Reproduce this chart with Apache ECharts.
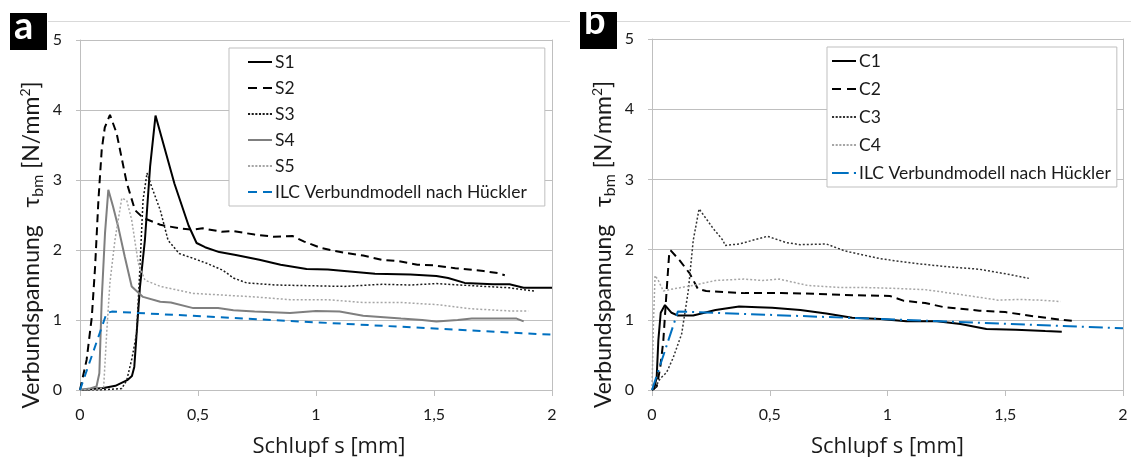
<!DOCTYPE html>
<html><head><meta charset="utf-8">
<script src="https://cdn.jsdelivr.net/npm/echarts@6/dist/echarts.min.js"></script>
<style>html,body{margin:0;padding:0;background:#fff}#c{width:1131px;height:457px}</style>
</head><body><div id="c"></div>
<script>
// ---- Data (s in mm, tau in N/mm²) ----
const xTicks = ['0', '0,5', '1', '1,5', '2'];
const namesA = ['S1', 'S2', 'S3', 'S4', 'S5', 'ILC Verbundmodell nach Hückler'];
const namesB = ['C1', 'C2', 'C3', 'C4', 'ILC Verbundmodell nach Hückler'];

const s1 = [[0,0],[0.04,0.01],[0.1,0.03],[0.15,0.06],[0.2,0.14],[0.22,0.2],[0.23,0.33],[0.24,0.81],[0.254,1.47],[0.275,2.14],[0.297,3.19],[0.32,3.92],[0.40,2.95],[0.46,2.35],[0.494,2.1],[0.53,2.04],[0.59,1.97],[0.66,1.93],[0.76,1.86],[0.85,1.79],[0.96,1.73],[1.05,1.72],[1.12,1.70],[1.25,1.66],[1.4,1.65],[1.51,1.63],[1.56,1.60],[1.63,1.53],[1.75,1.51],[1.82,1.51],[1.88,1.46],[2.0,1.46]];
const s2 = [[0,0],[0.028,0.43],[0.05,1.04],[0.064,1.76],[0.078,2.71],[0.092,3.43],[0.105,3.75],[0.127,3.93],[0.155,3.67],[0.198,2.96],[0.233,2.57],[0.267,2.46],[0.34,2.36],[0.42,2.31],[0.48,2.29],[0.52,2.31],[0.6,2.26],[0.65,2.27],[0.74,2.22],[0.82,2.19],[0.9,2.2],[0.95,2.12],[1.02,2.03],[1.12,1.96],[1.2,1.92],[1.28,1.86],[1.35,1.84],[1.43,1.79],[1.5,1.78],[1.59,1.74],[1.71,1.70],[1.77,1.67],[1.80,1.64]];
const s3 = [[0,0],[0.08,0.0],[0.177,0.02],[0.198,0.14],[0.22,0.45],[0.24,0.81],[0.254,1.76],[0.267,2.71],[0.284,3.1],[0.304,2.9],[0.34,2.57],[0.373,2.14],[0.42,1.95],[0.48,1.88],[0.537,1.81],[0.606,1.71],[0.65,1.6],[0.706,1.53],[0.83,1.5],[0.97,1.49],[1.12,1.48],[1.28,1.51],[1.4,1.5],[1.51,1.52],[1.66,1.49],[1.82,1.46],[1.93,1.41]];
const s4 = [[0,0],[0.04,0.02],[0.07,0.05],[0.082,0.24],[0.092,1.29],[0.106,2.24],[0.12,2.86],[0.14,2.62],[0.162,2.33],[0.19,1.9],[0.219,1.48],[0.267,1.33],[0.34,1.26],[0.385,1.25],[0.48,1.17],[0.585,1.17],[0.65,1.14],[0.74,1.12],[0.89,1.1],[1.0,1.13],[1.1,1.12],[1.2,1.06],[1.36,1.02],[1.45,1.0],[1.51,0.98],[1.6,1.0],[1.66,1.02],[1.85,1.02],[1.88,0.98]];
const s5 = [[0,0],[0.06,0.01],[0.1,0.03],[0.113,0.81],[0.127,1.54],[0.148,2.14],[0.177,2.74],[0.198,2.71],[0.219,2.43],[0.247,1.81],[0.275,1.57],[0.34,1.48],[0.48,1.38],[0.585,1.36],[0.74,1.33],[0.89,1.29],[1.05,1.29],[1.2,1.25],[1.36,1.25],[1.51,1.22],[1.66,1.16],[1.82,1.13],[1.9,1.13]];
const ilcA = [[0,0],[0.113,1.1],[0.135,1.12],[2.0,0.79]];

const c1 = [[0,0],[0.01,0.02],[0.02,0.19],[0.027,0.71],[0.037,1.1],[0.055,1.21],[0.083,1.1],[0.11,1.06],[0.175,1.06],[0.27,1.14],[0.37,1.19],[0.45,1.18],[0.51,1.17],[0.63,1.14],[0.74,1.09],[0.85,1.03],[0.97,1.01],[1.08,0.98],[1.21,0.98],[1.31,0.94],[1.42,0.87],[1.545,0.86],[1.67,0.84],[1.74,0.83]];
const c2 = [[0,0],[0.02,0.05],[0.035,0.32],[0.048,0.7],[0.062,1.41],[0.073,1.94],[0.079,1.99],[0.119,1.84],[0.16,1.66],[0.195,1.44],[0.23,1.41],[0.395,1.38],[0.55,1.38],[0.7,1.37],[0.855,1.35],[1.01,1.34],[1.07,1.27],[1.16,1.24],[1.24,1.18],[1.39,1.13],[1.5,1.11],[1.62,1.05],[1.74,1.0],[1.8,0.98]];
const c3 = [[0,0],[0.013,0.03],[0.034,0.16],[0.062,0.25],[0.09,0.46],[0.126,0.8],[0.154,1.41],[0.175,2.13],[0.2,2.58],[0.26,2.3],[0.302,2.13],[0.31,2.06],[0.37,2.08],[0.49,2.19],[0.57,2.1],[0.63,2.07],[0.74,2.08],[0.82,1.98],[0.97,1.87],[1.1,1.81],[1.24,1.76],[1.39,1.72],[1.51,1.65],[1.6,1.59]];
const c4 = [[0,0],[0.006,0.94],[0.013,1.63],[0.027,1.56],[0.048,1.41],[0.09,1.44],[0.175,1.49],[0.27,1.56],[0.39,1.58],[0.47,1.56],[0.54,1.58],[0.66,1.49],[0.8,1.46],[0.9,1.46],[1.01,1.45],[1.16,1.43],[1.31,1.36],[1.47,1.28],[1.56,1.29],[1.65,1.28],[1.735,1.26]];
const ilcB = [[0,0],[0.11,1.12],[2.0,0.88]];

// ---- Styling ----
const FONT = 'Lato';
const FONT_X = 'Open Sans';
const TXT = '#1a1a1a';
const GRID_C = '#bfbfbf';
const BLUE = '#0070c0';

// legend sample glyphs (2px high strokes)
const ICON_SOLID = 'path://M0,0h24v2h-24z';
const ICON_DASH = 'path://M0,0h9v2h-9z M15,0h9v2h-9z';
const ICON_DOT = 'path://M0,0h2v2h-2z M3.5,0h2v2h-2z M7,0h2v2h-2z M10.5,0h2v2h-2z M14,0h2v2h-2z M17.5,0h2v2h-2z M21,0h2v2h-2z';
const ICON_DASHDOT = 'path://M0,0h16v2h-16z M21,0h2v2h-2z';

function xAxisOf(idx, shift) {
  return {
    gridIndex: idx, type: 'value', min: 0, max: 2, interval: 0.5,
    name: 'Schlupf s [mm]', nameLocation: 'middle', nameGap: 46,
    nameTextStyle: { fontFamily: FONT_X, fontSize: 22, color: TXT, padding: [0, 0, 0, shift] },
    axisLine: { show: true, onZero: false, lineStyle: { color: GRID_C, width: 1 } },
    axisTick: { show: true, length: 6, lineStyle: { color: GRID_C } },
    axisLabel: { margin: 17, fontFamily: FONT, fontSize: 16, color: TXT,
      formatter: v => xTicks[Math.round(v / 0.5)] },
    splitLine: { show: false }
  };
}
function yAxisOf(idx) {
  return {
    gridIndex: idx, type: 'value', min: 0, max: 5, interval: 1,
    name: '{t|Verbundspannung   τ}{sub|bm}{t| [N/mm}{sup|2}{t|]}',
    nameLocation: 'middle', nameGap: 34,
    nameTextStyle: { fontFamily: FONT, fontSize: 23, color: TXT, padding: [0, 60, 0, 0],
      rich: {
        t: { fontFamily: FONT, fontSize: 23, color: TXT, lineHeight: 28 },
        sub: { fontFamily: FONT, fontSize: 16, color: TXT, lineHeight: 16, verticalAlign: 'bottom' },
        sup: { fontFamily: FONT, fontSize: 14, color: TXT, lineHeight: 14, verticalAlign: 'top' }
      } },
    axisLine: { show: true, lineStyle: { color: GRID_C, width: 1 } },
    axisTick: { show: true, length: 4, lineStyle: { color: GRID_C } },
    axisLabel: { margin: 18, fontFamily: FONT, fontSize: 16, color: TXT },
    splitLine: { show: true, lineStyle: { color: GRID_C, width: 1 } }
  };
}
function rightBorder(idx) {
  return { gridIndex: idx, type: 'value', min: 0, max: 5, position: 'right',
    axisLine: { show: true, lineStyle: { color: GRID_C } },
    axisTick: { show: false }, axisLabel: { show: false }, splitLine: { show: false } };
}
function ser(name, data, idx, color, width, type) {
  return { name, type: 'line', data, xAxisIndex: idx, yAxisIndex: idx,
    showSymbol: false, symbol: 'none', animation: false,
    lineStyle: { color, width, type }, itemStyle: { color } };
}
function legendOf(names, icons, left, top, gap, pad) {
  return {
    data: names.map((n, i) => ({ name: n, icon: icons[i] })),
    orient: 'vertical', left, top, itemGap: gap,
    itemWidth: 24, itemHeight: 2, symbolKeepAspect: false,
    itemStyle: { borderWidth: 0 },
    padding: pad,
    borderColor: GRID_C, borderWidth: 1, backgroundColor: '#fff',
    textStyle: { fontFamily: FONT, fontSize: 17.5, color: TXT, padding: [0, 0, 0, -2] },
    selectedMode: false, z: 10
  };
}

const iconsA = [ICON_SOLID, ICON_DASH, ICON_DOT, ICON_SOLID, ICON_DOT, ICON_DASH];
const iconsB = [ICON_SOLID, ICON_DASH, ICON_DOT, ICON_DOT, ICON_DASHDOT];

const chart = echarts.init(document.getElementById('c'), null, { renderer: 'canvas' });
chart.setOption({
  backgroundColor: '#fff',
  animation: false,
  grid: [
    { left: 80, right: 579, top: 40, bottom: 67, outerBoundsMode: 'none', containLabel: false },
    { left: 652, right: 8, top: 39, bottom: 67, outerBoundsMode: 'none', containLabel: false }
  ],
  xAxis: [xAxisOf(0, 26), xAxisOf(1, 0)],
  yAxis: [yAxisOf(0), yAxisOf(1), rightBorder(0), rightBorder(1)],
  legend: [
    legendOf(namesA, iconsA, 229, 48, 8, [5, 18, 5, 19]),
    legendOf(namesB, iconsB, 827, 47, 10, [5, 6, 5, 5])
  ],
  series: [
    ser('S1', s1, 0, '#000000', 2, 'solid'),
    ser('S2', s2, 0, '#000000', 2, [8, 5]),
    ser('S3', s3, 0, '#1a1a1a', 1.5, [2, 2]),
    ser('S4', s4, 0, '#7f7f7f', 2, 'solid'),
    ser('S5', s5, 0, '#a6a6a6', 1.5, [2, 2]),
    ser('ILC Verbundmodell nach Hückler', ilcA, 0, BLUE, 2, [8, 6]),
    ser('C1', c1, 1, '#000000', 2, 'solid'),
    ser('C2', c2, 1, '#000000', 2, [8, 5]),
    ser('C3', c3, 1, '#333333', 1.5, [2, 2]),
    ser('C4', c4, 1, '#a6a6a6', 1.5, [2, 2]),
    ser('ILC Verbundmodell nach Hückler', ilcB, 1, BLUE, 2, [14, 5, 2, 5])
  ],
  graphic: [
    { type: 'line', shape: { x1: 48, y1: 21.5, x2: 570, y2: 21.5 }, style: { stroke: '#d9d9d9', lineWidth: 1 } },
    { type: 'line', shape: { x1: 617, y1: 21.5, x2: 1131, y2: 21.5 }, style: { stroke: '#d9d9d9', lineWidth: 1 } },
    { type: 'rect', shape: { x: 10, y: 13, width: 37, height: 37 }, style: { fill: '#000' } },
    { type: 'text', left: 14, top: 8, style: { text: 'a', fill: '#fff', font: 'bold 38px Lato' } },
    { type: 'rect', shape: { x: 580, y: 12, width: 37, height: 37 }, style: { fill: '#000' } },
    { type: 'text', left: 584, top: 3, style: { text: 'b', fill: '#fff', font: 'bold 38px Lato' } }
  ]
});
</script></body></html>
